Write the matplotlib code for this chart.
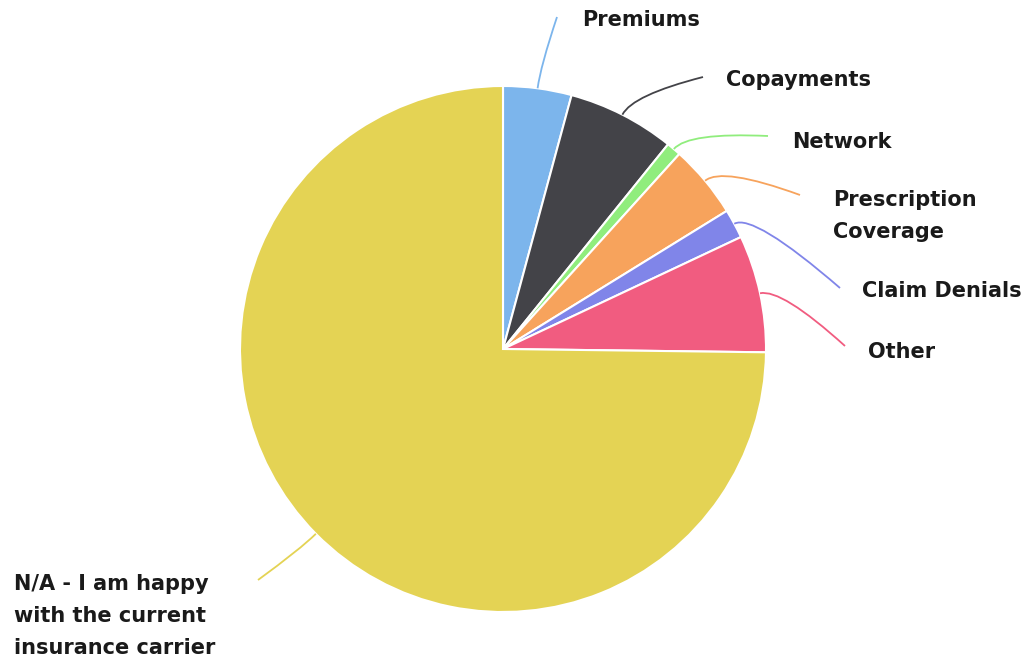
import matplotlib
matplotlib.use("Agg")
import matplotlib.pyplot as plt
import numpy as np
from matplotlib.path import Path
from matplotlib.patches import PathPatch

categories = ["Premiums", "Copayments", "Network", "Prescription\nCoverage",
              "Claim Denials", "Other", "N/A - I am happy\nwith the current\ninsurance carrier"]
values = [4.2, 6.6, 0.9, 4.5, 1.8, 7.2, 74.8]
colors = ["#7cb5ec", "#434348", "#90ed7d", "#f7a35c", "#8085e9", "#f15c80", "#e4d354"]

# label anchor positions (pixels, y down)
label_pos = [(582, 20), (726, 80), (792, 142), (833, 216), (862, 291), (868, 352), (14, 616)]
conn_end = [(557, 17), (703, 77), (768, 136), (800, 195), (840, 288), (845, 346), (258, 580)]

W, H = 1036, 662
fig = plt.figure(figsize=(W / 100, H / 100), dpi=100)
ax = fig.add_axes([0, 0, 1, 1])
ax.set_xlim(0, W)
ax.set_ylim(0, H)
ax.axis("off")

cx, cy, R = 503, H - 349, 263
wedges, _ = ax.pie(values, colors=colors, startangle=90, counterclock=False,
                   center=(cx, cy), radius=R,
                   wedgeprops=dict(edgecolor="white", linewidth=1.5))
ax.set_xlim(0, W)
ax.set_ylim(0, H)
ax.set_aspect("equal")

for w, lab, (lx, ly), (ex, ey), col in zip(wedges, categories, label_pos, conn_end, colors):
    mid = np.deg2rad((w.theta1 + w.theta2) / 2)
    p0 = (cx + R * np.cos(mid), cy + R * np.sin(mid))
    p1 = (cx + (R + 22) * np.cos(mid), cy + (R + 22) * np.sin(mid))
    p2 = (ex, H - ey)
    path = Path([p0, p1, p2], [Path.MOVETO, Path.CURVE3, Path.CURVE3])
    ax.add_patch(PathPatch(path, facecolor="none", edgecolor=col, lw=1.3))
    ax.text(lx, H - ly, lab, ha="left", va="center", fontsize=15,
            fontweight="bold", color="#1a1a1a", linespacing=1.78,
            family="DejaVu Sans")

fig.savefig("out.png", dpi=100)
